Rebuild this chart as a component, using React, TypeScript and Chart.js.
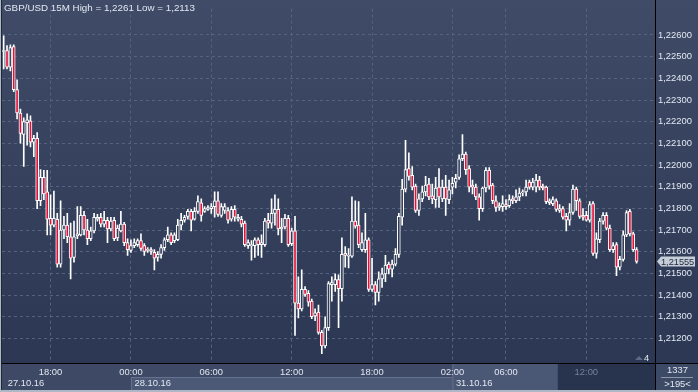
import { useEffect, useRef } from 'react';
import { Chart, registerables } from 'chart.js';

Chart.register(...registerables);

// ---------- data ----------
const titleSymbol = 'GBP/USD 15M';
const titleHigh = '1,2261';
const titleLow = '1,2113';
const slotCount = 195;

const opens = [
  1.22524, 1.22528, 1.22452, 1.22546, 1.22348, 1.2224, 1.22141, 1.22195, 1.22204, 1.22105,
  1.22123, 1.21835, 1.21943, 1.21876, 1.21754, 1.21723, 1.2175, 1.21543, 1.217, 1.21723,
  1.21669, 1.21574, 1.21673, 1.21678, 1.21768, 1.217, 1.2166, 1.21696, 1.2175, 1.21759,
  1.21727, 1.21745, 1.21705, 1.21745, 1.21664, 1.21696, 1.21727, 1.21642, 1.21606, 1.21628,
  1.21633, 1.21651, 1.21628, 1.21606, 1.2161, 1.21597, 1.21574, 1.21588, 1.21619, 1.21655,
  1.21678, 1.21651, 1.21655, 1.21723, 1.21745, 1.21763, 1.21786, 1.2175, 1.21786, 1.21826,
  1.21786, 1.21795, 1.21799, 1.21808, 1.21835, 1.21768, 1.2179, 1.2179, 1.2175, 1.21795,
  1.2175, 1.2175, 1.21732, 1.21628, 1.21628, 1.21628, 1.21655, 1.21633, 1.21633, 1.21745,
  1.21732, 1.21777, 1.21795, 1.21705, 1.21714, 1.21754, 1.21637, 1.21696, 1.21363, 1.21336,
  1.21426, 1.21408, 1.21372, 1.21304, 1.21322, 1.21228, 1.21165, 1.2125, 1.21448, 1.21448,
  1.21471, 1.2143, 1.21592, 1.21579, 1.21579, 1.21741, 1.21723, 1.2161, 1.2161, 1.21655,
  1.21426, 1.21448, 1.21412, 1.21475, 1.21498, 1.21543, 1.2152, 1.21543, 1.21588, 1.21759,
  1.21889, 1.21984, 1.21952, 1.21903, 1.2179, 1.21844, 1.21876, 1.21912, 1.21858, 1.2184,
  1.21898, 1.21844, 1.21898, 1.2184, 1.21898, 1.21921, 1.21943, 1.22029, 1.22051, 1.21984,
  1.21907, 1.21898, 1.21853, 1.21799, 1.21894, 1.21975, 1.21907, 1.21835, 1.21804, 1.21808,
  1.21817, 1.21813, 1.21844, 1.21835, 1.21853, 1.21871, 1.21876, 1.21921, 1.21898, 1.21898,
  1.2193, 1.21903, 1.21898, 1.21826, 1.21822, 1.21835, 1.2179, 1.21799, 1.21763, 1.21745,
  1.21781, 1.21889, 1.21835, 1.21768, 1.21768, 1.21745, 1.21822, 1.21592, 1.21655, 1.21741,
  1.21768, 1.21709, 1.2161, 1.21633, 1.21529, 1.21565, 1.21678, 1.21786, 1.21682, 1.2161,
];

const highs = [
  1.22596, 1.22551, 1.22555, 1.22555, 1.22393, 1.22258, 1.22218, 1.22236, 1.22227, 1.22137,
  1.2215, 1.21979, 1.21975, 1.21975, 1.21862, 1.2188, 1.21777, 1.21835, 1.21763, 1.21777,
  1.21732, 1.21741, 1.21808, 1.21808, 1.21786, 1.2175, 1.21714, 1.21777, 1.21772, 1.21777,
  1.21786, 1.21759, 1.21759, 1.21759, 1.21723, 1.21786, 1.21736, 1.2166, 1.21655, 1.2166,
  1.2166, 1.21682, 1.21637, 1.21619, 1.21619, 1.2161, 1.21601, 1.21633, 1.21664, 1.21714,
  1.21687, 1.21687, 1.2175, 1.21777, 1.21768, 1.21795, 1.21795, 1.21804, 1.21858, 1.21844,
  1.21808, 1.21813, 1.21822, 1.21876, 1.21876, 1.21822, 1.21822, 1.21804, 1.21808, 1.21813,
  1.21772, 1.21763, 1.21741, 1.21655, 1.21651, 1.21664, 1.21664, 1.21678, 1.21754, 1.21777,
  1.21844, 1.21862, 1.21844, 1.21754, 1.21772, 1.21768, 1.21709, 1.21763, 1.21484, 1.21516,
  1.21439, 1.21421, 1.21381, 1.21336, 1.21354, 1.21237, 1.213, 1.21462, 1.21484, 1.21498,
  1.21493, 1.21664, 1.21624, 1.21615, 1.21853, 1.21835, 1.21831, 1.21687, 1.21777, 1.21664,
  1.2157, 1.21462, 1.21507, 1.21525, 1.21583, 1.21552, 1.21561, 1.21615, 1.21777, 1.21934,
  1.22114, 1.22056, 1.21993, 1.21912, 1.21867, 1.21903, 1.21948, 1.21939, 1.21912, 1.21943,
  1.21984, 1.2193, 1.21952, 1.2193, 1.21943, 1.21957, 1.22047, 1.22141, 1.2206, 1.21997,
  1.2193, 1.21912, 1.21867, 1.21898, 1.21988, 1.21988, 1.21916, 1.21858, 1.21826, 1.21858,
  1.2184, 1.21862, 1.21858, 1.21885, 1.21894, 1.21885, 1.2193, 1.2193, 1.21939, 1.21957,
  1.21948, 1.21912, 1.21903, 1.21844, 1.21853, 1.21844, 1.21817, 1.21808, 1.21777, 1.21822,
  1.21907, 1.21898, 1.21844, 1.21799, 1.21786, 1.21831, 1.21831, 1.21687, 1.21754, 1.21781,
  1.21781, 1.21723, 1.21642, 1.21642, 1.21579, 1.21696, 1.2179, 1.21795, 1.21691, 1.21619,
];

const lows = [
  1.22443, 1.22443, 1.22434, 1.22339, 1.22213, 1.22101, 1.21993, 1.22092, 1.22083, 1.22038,
  1.21799, 1.21813, 1.2184, 1.21678, 1.21678, 1.21714, 1.21529, 1.21529, 1.2166, 1.21642,
  1.21475, 1.21552, 1.2166, 1.21673, 1.21678, 1.21633, 1.21651, 1.21687, 1.21741, 1.21714,
  1.21714, 1.21642, 1.21696, 1.21651, 1.21651, 1.21691, 1.21628, 1.21583, 1.21597, 1.21619,
  1.21624, 1.21606, 1.21583, 1.21597, 1.21588, 1.21516, 1.21556, 1.2157, 1.21606, 1.21646,
  1.21633, 1.21642, 1.21651, 1.217, 1.21736, 1.2175, 1.21696, 1.21745, 1.21777, 1.21741,
  1.21781, 1.2179, 1.21777, 1.21759, 1.21763, 1.21759, 1.21777, 1.21732, 1.21741, 1.21741,
  1.21741, 1.21714, 1.21624, 1.21615, 1.21561, 1.21574, 1.21583, 1.21574, 1.21624, 1.21709,
  1.21709, 1.21723, 1.21678, 1.21642, 1.21705, 1.21624, 1.21628, 1.21214, 1.21295, 1.21327,
  1.21394, 1.21349, 1.21291, 1.21282, 1.21219, 1.21129, 1.21156, 1.21237, 1.21372, 1.21417,
  1.2125, 1.21372, 1.21529, 1.21525, 1.21574, 1.21709, 1.21619, 1.21601, 1.21597, 1.21417,
  1.21417, 1.21354, 1.21372, 1.21435, 1.21462, 1.21498, 1.21484, 1.21534, 1.21574, 1.21723,
  1.21876, 1.2193, 1.21885, 1.21781, 1.21768, 1.21831, 1.21858, 1.2184, 1.21822, 1.21804,
  1.21804, 1.21831, 1.21768, 1.21822, 1.21867, 1.21894, 1.21934, 1.2202, 1.21957, 1.21876,
  1.21867, 1.2184, 1.21745, 1.21786, 1.21876, 1.21889, 1.21822, 1.21786, 1.2179, 1.21786,
  1.21795, 1.21804, 1.21822, 1.21826, 1.21835, 1.21858, 1.21858, 1.21889, 1.21885, 1.21876,
  1.21885, 1.21885, 1.21822, 1.21817, 1.21813, 1.21786, 1.21781, 1.2175, 1.21696, 1.21723,
  1.21772, 1.2179, 1.21754, 1.21745, 1.21741, 1.21736, 1.21583, 1.2157, 1.21642, 1.21727,
  1.217, 1.21601, 1.21597, 1.21489, 1.21516, 1.21556, 1.21669, 1.21673, 1.21601, 1.21547,
];

const closes = [
  1.22528, 1.22452, 1.22542, 1.22348, 1.2224, 1.22146, 1.222, 1.22209, 1.22105, 1.22123,
  1.21835, 1.21943, 1.21867, 1.2175, 1.21723, 1.21754, 1.21543, 1.217, 1.21723, 1.21669,
  1.2157, 1.21669, 1.21682, 1.21768, 1.217, 1.2166, 1.21696, 1.21759, 1.21759, 1.21727,
  1.21745, 1.21705, 1.21741, 1.2166, 1.21709, 1.21727, 1.21642, 1.2161, 1.21628, 1.21642,
  1.21651, 1.21615, 1.21601, 1.2161, 1.21601, 1.2157, 1.21588, 1.21619, 1.21655, 1.21678,
  1.21642, 1.21678, 1.21723, 1.21745, 1.21759, 1.21786, 1.21745, 1.21786, 1.21831, 1.21768,
  1.21799, 1.21804, 1.21808, 1.21835, 1.21772, 1.21808, 1.21808, 1.21745, 1.21795, 1.21759,
  1.21759, 1.21727, 1.21633, 1.21642, 1.21633, 1.21655, 1.21633, 1.21642, 1.21741, 1.21732,
  1.21777, 1.21795, 1.21705, 1.21714, 1.21754, 1.21633, 1.21696, 1.21363, 1.21336, 1.21426,
  1.21403, 1.21367, 1.213, 1.21318, 1.21228, 1.21165, 1.2125, 1.21453, 1.21457, 1.21471,
  1.2143, 1.21588, 1.21583, 1.21583, 1.21741, 1.21718, 1.21633, 1.21642, 1.21655, 1.21426,
  1.21448, 1.21412, 1.21475, 1.21498, 1.21538, 1.2152, 1.21543, 1.21588, 1.21763, 1.21889,
  1.21979, 1.21948, 1.21898, 1.2179, 1.21844, 1.21876, 1.21907, 1.21853, 1.21844, 1.21894,
  1.21853, 1.21898, 1.21844, 1.21885, 1.21916, 1.21939, 1.22029, 1.22051, 1.21979, 1.21898,
  1.21898, 1.21853, 1.21799, 1.21894, 1.21975, 1.21903, 1.21835, 1.21804, 1.21813, 1.21822,
  1.21808, 1.2184, 1.21835, 1.21853, 1.21871, 1.21876, 1.21898, 1.21898, 1.21921, 1.2193,
  1.21898, 1.21894, 1.21831, 1.21835, 1.2184, 1.21795, 1.21799, 1.21759, 1.21745, 1.21781,
  1.21889, 1.21835, 1.21763, 1.21759, 1.21745, 1.21817, 1.21592, 1.2166, 1.21741, 1.21768,
  1.21709, 1.2161, 1.21628, 1.21529, 1.21565, 1.21678, 1.21781, 1.21682, 1.2161, 1.21555,
];

// time axis
const sessionStartsUtc = [Date.UTC(2016, 9, 27, 14, 30), Date.UTC(2016, 9, 31, 2, 0)];
const sessionStartIndex = [0, 134];
const xTickIndex = [14, 38, 62, 86, 110, 134, 150, 174];
const dateLabels = ['27.10.16', '28.10.16', '31.10.16'];
const dateStartIndex = [0, 38, 134];
const yTickValues = [1.212, 1.213, 1.214, 1.215, 1.216, 1.217, 1.218, 1.219, 1.22, 1.221, 1.222, 1.223, 1.224, 1.225, 1.226];
const yMin = 1.210865;
const yMax = 1.227216;
const barCountText = '1337';
const visibleBarsText = '>195<';
const markerText = '4';

function buildTimes(): string[] {
  const out: string[] = [];
  for (let i = 0; i < slotCount; i++) {
    const s = i >= sessionStartIndex[1] ? 1 : 0;
    const t = new Date(sessionStartsUtc[s] + (i - sessionStartIndex[s]) * 15 * 60000);
    out.push(String(t.getUTCHours()).padStart(2, '0') + ':' + String(t.getUTCMinutes()).padStart(2, '0'));
  }
  return out;
}
const candleTimes = buildTimes();

// ---------- styles ----------
const FONT = '"Liberation Sans", Arial, sans-serif';
const BG_TOP = '#3f4b67';
const BG_BOTTOM = '#2c3853';
const GRID = '#56637e';
const TEXT = '#e2e8f2';
const BEAR = '#e3123a';
const fmt = (v: number, d: number) => v.toFixed(d).replace('.', ',');

export default function App() {
  const ref = useRef<HTMLCanvasElement>(null);

  useEffect(() => {
    const canvas = ref.current!;
    const decor = {
      id: 'decor',
      beforeDraw(chart: any) {
        const { ctx, chartArea: a, width, height } = chart;
        const xs = chart.scales.x;
        const px = (i: number) => xs.getPixelForValue(i);
        ctx.save();
        const g = ctx.createLinearGradient(0, 0, 0, a.bottom);
        g.addColorStop(0, BG_TOP);
        g.addColorStop(1, BG_BOTTOM);
        ctx.fillStyle = g;
        ctx.fillRect(0, 0, width, a.bottom);
        // time strip
        ctx.fillStyle = '#3d4965';
        ctx.fillRect(0, a.bottom, width, height - a.bottom);
        const rowTop = a.bottom + 14;
        // 28.10 date box
        const b0 = px(dateStartIndex[1]);
        const b1 = px(dateStartIndex[2]);
        ctx.fillStyle = '#4b5876';
        ctx.fillRect(b0, rowTop, b1 - b0, height - 2 - rowTop);
        ctx.fillStyle = '#66728d';
        ctx.fillRect(b0, rowTop, b1 - b0, 1);
        ctx.fillRect(b0, rowTop, 1, height - 2 - rowTop);
        // highlighted last day part
        const hEnd = (px(165) + px(166)) / 2;
        ctx.fillStyle = '#4a5775';
        ctx.fillRect(b1, a.bottom, hEnd - b1, height - a.bottom);
        ctx.fillStyle = '#66728d';
        ctx.fillRect(b1, a.bottom, 1, height - a.bottom);
        ctx.fillStyle = '#28334d';
        ctx.fillRect(hEnd, a.bottom, a.right - hEnd, height - a.bottom);
        // right bottom panel
        ctx.fillStyle = '#3d4a66';
        ctx.fillRect(a.right, a.bottom, width - a.right, height - a.bottom);
        ctx.restore();
      },
      afterDraw(chart: any) {
        const { ctx, chartArea: a, width, height } = chart;
        const xs = chart.scales.x;
        const ys = chart.scales.y;
        ctx.save();
        // frame lines
        ctx.fillStyle = '#000000';
        ctx.fillRect(Math.round(a.right), 0, 1, height);
        ctx.fillRect(0, Math.round(a.bottom), width, 1);
        ctx.fillStyle = '#aeb7c6';
        ctx.fillRect(0, 0, 1, height);
        ctx.fillRect(0, height - 2, width, 2);
        ctx.fillStyle = '#1f2738';
        ctx.fillRect(1, 0, 1, height - 2);
        // title
        ctx.font = '9.8px ' + FONT;
        ctx.fillStyle = TEXT;
        ctx.textBaseline = 'middle';
        ctx.textAlign = 'left';
        ctx.fillText(`${titleSymbol} High = ${titleHigh} Low = ${titleLow}`, 4, 8.5);
        ctx.font = '9.4px ' + FONT;
        // dates
        dateLabels.forEach((d, k) => {
          const bx = Math.max(xs.getPixelForValue(dateStartIndex[k]), a.left);
          ctx.fillText(d, bx + (k === 0 ? 4 : 3.5), a.bottom + 20);
        });
        // right-bottom counters
        ctx.textAlign = 'center';
        const cx = (a.right + width) / 2 + 1;
        ctx.fillText(barCountText, cx, a.bottom + 7.5);
        ctx.fillStyle = '#8d97aa';
        ctx.fillRect(a.right + 6, a.bottom + 14, width - a.right - 11, 1);
        ctx.fillStyle = TEXT;
        ctx.fillText(visibleBarsText, cx, a.bottom + 21);
        // marker 4
        ctx.textAlign = 'left';
        ctx.fillText(markerText, a.right - 11, a.bottom - 4.5);
        ctx.fillStyle = '#5d6a85';
        ctx.beginPath();
        ctx.moveTo(a.right - 20, a.bottom - 3);
        ctx.lineTo(a.right - 16, a.bottom - 7);
        ctx.lineTo(a.right - 12, a.bottom - 3);
        ctx.closePath();
        ctx.fill();
        // last price tag
        const last = closes[closes.length - 1];
        const py = ys.getPixelForValue(last);
        ctx.fillStyle = '#c5cdd9';
        ctx.beginPath();
        ctx.moveTo(a.right + 2, py);
        ctx.lineTo(a.right + 6, py - 5);
        ctx.lineTo(width - 3, py - 5);
        ctx.lineTo(width - 3, py + 5);
        ctx.lineTo(a.right + 6, py + 5);
        ctx.closePath();
        ctx.fill();
        ctx.fillStyle = '#1c273b';
        ctx.font = '9.2px ' + FONT;
        ctx.fillText(fmt(last, 5), a.right + 6, py + 0.5);
        ctx.restore();
      },
    };

    const chart = new Chart(canvas, {
      type: 'bar',
      data: {
        labels: candleTimes,
        datasets: [
          {
            label: 'wick',
            data: lows.map((l, i) => [l, highs[i]]) as any,
            backgroundColor: '#ffffff',
            borderWidth: 0,
            barThickness: 1,
            grouped: false,
            order: 2,
          } as any,
          {
            label: 'body',
            data: opens.map((o, i) => [o, closes[i]]) as any,
            backgroundColor: (c: any) => {
              const i = c.dataIndex;
              if (closes[i] < opens[i]) return BEAR;
              const { ctx, chartArea } = c.chart;
              if (!chartArea) return '#36425e';
              const g = ctx.createLinearGradient(0, 0, 0, chartArea.bottom);
              g.addColorStop(0, BG_TOP);
              g.addColorStop(1, BG_BOTTOM);
              return g;
            },
            borderColor: '#ffffff',
            borderWidth: 1,
            borderSkipped: false,
            barThickness: 3,
            minBarLength: 1,
            grouped: false,
            order: 1,
          } as any,
        ],
      },
      options: {
        responsive: false,
        animation: false,
        devicePixelRatio: 1,
        events: [],
        layout: { padding: { left: 2, top: 0, right: 0, bottom: 0 } },
        plugins: { legend: { display: false }, tooltip: { enabled: false } },
        scales: {
          x: {
            type: 'category',
            offset: true,
            grid: { offset: false, color: GRID, drawTicks: false, lineWidth: 1 },
            border: { display: false, dash: [3, 3] },
            ticks: {
              autoSkip: false,
              maxRotation: 0,
              padding: 4,
              font: { family: FONT, size: 9.4 },
              color: (c: any) => (c.index === xTickIndex.length - 1 ? '#76819a' : TEXT),
            },
            afterBuildTicks: (s: any) => {
              s.ticks = s.ticks.filter((t: any) => xTickIndex.includes(t.value));
            },
            afterFit: (s: any) => {
              s.height = 29;
            },
          },
          y: {
            position: 'right',
            min: yMin,
            max: yMax,
            grid: { color: GRID, drawTicks: false, lineWidth: 1 },
            border: { display: false, dash: [3, 3] },
            ticks: {
              padding: 3,
              font: { family: FONT, size: 9.4 },
              color: TEXT,
              callback: (v: any) => fmt(Number(v), 5),
            },
            afterBuildTicks: (s: any) => {
              s.ticks = yTickValues.map((v) => ({ value: v }));
            },
            afterFit: (s: any) => {
              s.width = 43;
            },
          },
        },
      },
      plugins: [decor],
    });
    return () => chart.destroy();
  }, []);

  return (
    <div style={{ position: 'fixed', left: 0, top: 0, width: 698, height: 392 }}>
      <canvas ref={ref} width={698} height={392} style={{ display: 'block', width: 698, height: 392 }} />
    </div>
  );
}
